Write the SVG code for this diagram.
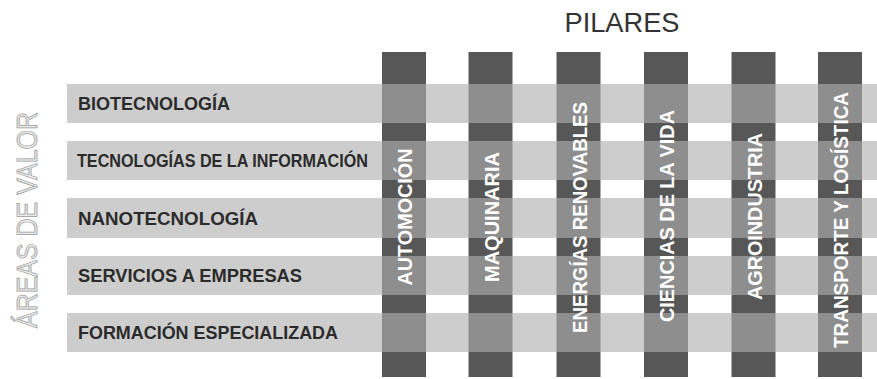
<svg xmlns="http://www.w3.org/2000/svg" width="877" height="379" viewBox="0 0 877 379">
<defs>
<linearGradient id="pg" gradientUnits="userSpaceOnUse" x1="0" y1="0" x2="0" y2="379">
<stop offset="0" stop-color="#575757"/>
<stop offset="0.2216" stop-color="#575757"/><stop offset="0.2216" stop-color="#8e8e8e"/>
<stop offset="0.3245" stop-color="#8e8e8e"/><stop offset="0.3245" stop-color="#575757"/>
<stop offset="0.3720" stop-color="#575757"/><stop offset="0.3720" stop-color="#8e8e8e"/>
<stop offset="0.4749" stop-color="#8e8e8e"/><stop offset="0.4749" stop-color="#575757"/>
<stop offset="0.5224" stop-color="#575757"/><stop offset="0.5224" stop-color="#8e8e8e"/>
<stop offset="0.6280" stop-color="#8e8e8e"/><stop offset="0.6280" stop-color="#575757"/>
<stop offset="0.6755" stop-color="#575757"/><stop offset="0.6755" stop-color="#8e8e8e"/>
<stop offset="0.7784" stop-color="#8e8e8e"/><stop offset="0.7784" stop-color="#575757"/>
<stop offset="0.8259" stop-color="#575757"/><stop offset="0.8259" stop-color="#8e8e8e"/>
<stop offset="0.9288" stop-color="#8e8e8e"/><stop offset="0.9288" stop-color="#575757"/>
<stop offset="1" stop-color="#575757"/>
</linearGradient>
</defs>
<style>
.band{fill:#cdcdcd}
.rl{font-family:"Liberation Sans",Arial,sans-serif;font-weight:bold;font-size:18px;fill:#2b2b2b}
.pil{fill:url(#pg)}
.pl{font-family:"Liberation Sans",Arial,sans-serif;font-weight:bold;font-size:21px;fill:#ffffff;text-anchor:middle}
.title{font-family:"Liberation Sans",Arial,sans-serif;font-size:27px;fill:#333333;text-anchor:middle}
.side{font-family:"Liberation Sans",Arial,sans-serif;font-size:30px;fill:#ececec;stroke:#9a9a9a;stroke-width:0.8;text-anchor:middle}
</style>
<rect width="877" height="379" fill="#ffffff"/>
<text class="title" x="622" y="32" textLength="115" lengthAdjust="spacingAndGlyphs">PILARES</text>
<text class="side" transform="translate(37,220) rotate(-90)" textLength="216" lengthAdjust="spacingAndGlyphs">ÁREAS DE VALOR</text>
<g id="areas">
<g id="area-biotecnologia"><rect class="band" x="67" y="84" width="810" height="39"/><text class="rl" x="78" y="110" textLength="152" lengthAdjust="spacingAndGlyphs">BIOTECNOLOGÍA</text></g>
<g id="area-tic"><rect class="band" x="67" y="141" width="810" height="39"/><text class="rl" x="77" y="167" textLength="291" lengthAdjust="spacingAndGlyphs">TECNOLOGÍAS DE LA INFORMACIÓN</text></g>
<g id="area-nanotecnologia"><rect class="band" x="67" y="198" width="810" height="40"/><text class="rl" x="78" y="225" textLength="180" lengthAdjust="spacingAndGlyphs">NANOTECNOLOGÍA</text></g>
<g id="area-servicios"><rect class="band" x="67" y="256" width="810" height="39"/><text class="rl" x="78" y="282" textLength="224" lengthAdjust="spacingAndGlyphs">SERVICIOS A EMPRESAS</text></g>
<g id="area-formacion"><rect class="band" x="67" y="313" width="810" height="39"/><text class="rl" x="78" y="339" textLength="260" lengthAdjust="spacingAndGlyphs">FORMACIÓN ESPECIALIZADA</text></g>
</g>
<g id="pilares">
<g id="pilar-automocion"><rect class="pil" x="382" y="52" width="44" height="325"/><text class="pl" transform="translate(412,217) rotate(-90)" textLength="137" lengthAdjust="spacingAndGlyphs">AUTOMOCIÓN</text></g>
<g id="pilar-maquinaria"><rect class="pil" x="468.5" y="52" width="44" height="325"/><text class="pl" transform="translate(498.5,217) rotate(-90)" textLength="130" lengthAdjust="spacingAndGlyphs">MAQUINARIA</text></g>
<g id="pilar-energias"><rect class="pil" x="556.5" y="52" width="44" height="325"/><text class="pl" transform="translate(586.5,217.5) rotate(-90)" textLength="231" lengthAdjust="spacingAndGlyphs">ENERGÍAS RENOVABLES</text></g>
<g id="pilar-ciencias"><rect class="pil" x="644" y="52" width="44" height="325"/><text class="pl" transform="translate(674,216) rotate(-90)" textLength="212" lengthAdjust="spacingAndGlyphs">CIENCIAS DE LA VIDA</text></g>
<g id="pilar-agroindustria"><rect class="pil" x="731.5" y="52" width="44" height="325"/><text class="pl" transform="translate(761.5,216.5) rotate(-90)" textLength="167" lengthAdjust="spacingAndGlyphs">AGROINDUSTRIA</text></g>
<g id="pilar-transporte"><rect class="pil" x="818" y="52" width="44" height="325"/><text class="pl" transform="translate(848,220) rotate(-90)" textLength="256" lengthAdjust="spacingAndGlyphs">TRANSPORTE Y LOGÍSTICA</text></g>
</g>
<g id="connectors"/>
</svg>
